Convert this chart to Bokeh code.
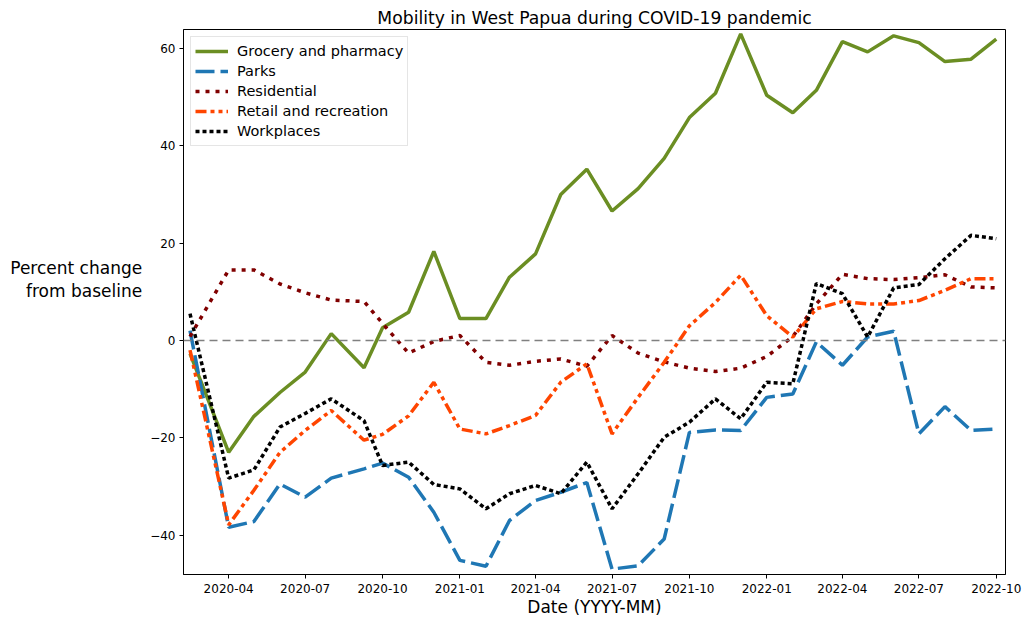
import pandas as pd
from bokeh.plotting import figure
from bokeh.models import Range1d, FixedTicker, DatetimeTickFormatter, Span, Label
from bokeh.embed import file_html
from bokeh.resources import INLINE

dates = pd.to_datetime([
    "2020-02-15", "2020-04-01", "2020-05-01", "2020-06-01", "2020-07-01", "2020-08-01",
    "2020-09-09", "2020-10-01", "2020-11-01", "2020-12-01", "2021-01-01", "2021-02-01",
    "2021-03-01", "2021-04-01", "2021-05-01", "2021-06-01", "2021-07-01", "2021-08-01",
    "2021-09-01", "2021-10-01", "2021-11-01", "2021-12-01", "2022-01-01", "2022-02-01",
    "2022-03-01", "2022-04-01", "2022-05-01", "2022-06-01", "2022-07-01", "2022-08-01",
    "2022-09-01", "2022-10-01",
])

grocery = [-2.7, -23.0, -15.6, -10.7, -6.5, 1.4, -5.6, 2.6, 5.8, 18.3, 4.5, 4.5,
           13.0, 17.8, 30.0, 35.2, 26.6, 31.2, 37.4, 45.8, 50.8, 63.0, 50.4, 46.8,
           51.4, 61.4, 59.3, 62.6, 61.2, 57.3, 57.8, 61.9]
parks = [2.0, -38.4, -37.2, -29.5, -32.2, -28.3, -26.4, -25.2, -28.1, -35.3, -45.2, -46.4,
         -37.0, -32.9, -31.2, -29.2, -47.0, -46.3, -40.8, -18.9, -18.4, -18.5, -11.7, -11.0,
         -0.3, -5.1, 0.7, 1.9, -19.2, -13.6, -18.5, -18.2]
residential = [0.8, 14.5, 14.5, 11.6, 9.8, 8.3, 8.0, 3.5, -2.6, -0.2, 1.0, -4.5,
               -5.1, -4.3, -3.8, -5.3, 1.0, -2.6, -4.4, -5.7, -6.4, -5.7, -3.3, 0.8,
               7.5, 13.6, 12.7, 12.5, 12.9, 13.5, 11.0, 10.8]
retail = [-2.0, -37.9, -30.8, -23.0, -18.5, -14.4, -20.5, -19.3, -15.5, -8.6, -18.2, -19.2,
          -17.5, -15.4, -8.6, -4.8, -19.2, -11.7, -4.5, 3.0, 7.8, 13.4, 5.1, 0.7,
          6.5, 8.0, 7.5, 7.5, 8.2, 10.3, 12.7, 12.7]
workplaces = [5.5, -28.3, -26.6, -17.8, -15.0, -12.0, -16.5, -25.7, -25.0, -29.6, -30.5, -34.6,
              -31.5, -29.8, -31.5, -25.0, -34.6, -27.4, -19.9, -16.8, -12.0, -16.1, -8.6, -8.9,
              11.7, 9.6, 0.7, 10.8, 11.5, 16.8, 21.6, 20.9]

x_tick_dates = ["2020-04-01", "2020-07-01", "2020-10-01", "2021-01-01", "2021-04-01",
                "2021-07-01", "2021-10-01", "2022-01-01", "2022-04-01", "2022-07-01",
                "2022-10-01"]
y_ticks = [-40, -20, 0, 20, 40, 60]

FONT = "DejaVu Sans"
YLABEL = "Percent change\nfrom baseline"

p = figure(
    frame_width=822, frame_height=545,
    x_axis_type="datetime",
    x_range=Range1d(pd.Timestamp("2020-02-07 06:00"), pd.Timestamp("2022-10-12")),
    y_range=Range1d(-48.1, 63.9),
    output_backend="svg", toolbar_location=None,
    min_border_left=183, min_border_right=20, min_border_top=29, min_border_bottom=40,
    background_fill_color="white", border_fill_color="white",
)

p.title.text = "Mobility in West Papua during COVID-19 pandemic"
p.title.align = "center"
p.title.text_font = FONT
p.title.text_font_size = "17.2px"
p.title.text_font_style = "normal"
p.title.text_color = "black"
p.title.standoff = 4

p.xgrid.grid_line_color = None
p.ygrid.grid_line_color = None
p.outline_line_color = "black"
p.outline_line_width = 1
p.outline_line_alpha = 1

zero = Span(location=0, dimension="width", line_color="gray", line_width=1.5, line_dash="8 5")
p.add_layout(zero)

series = [
    (grocery, "Grocery and pharmacy", "#6b8e23", "solid"),
    (parks, "Parks", "#1f77b4", "19 6"),
    (residential, "Residential", "#800000", "4 6"),
    (retail, "Retail and recreation", "#ff4500", "11 4 4 4 4 4"),
    (workplaces, "Workplaces", "black", "4 3"),
]
for vals, name, color, dash in series:
    p.line(dates, vals, line_color=color, line_width=3.5, line_dash=dash, legend_label=name)

for ax in (p.xaxis[0], p.yaxis[0]):
    ax.axis_line_color = "black"
    ax.major_tick_line_color = "black"
    ax.major_tick_out = 4
    ax.major_tick_in = 0
    ax.minor_tick_out = 0
    ax.minor_tick_in = 0
    ax.major_label_text_font = FONT
    ax.major_label_text_font_size = "12px"
    ax.major_label_text_color = "black"
    ax.major_label_standoff = 4
p.xaxis.major_label_standoff = 5

p.xaxis.ticker = FixedTicker(ticks=[pd.Timestamp(d).value // 10**6 for d in x_tick_dates])
fmt = "%Y-%m"
p.xaxis.formatter = DatetimeTickFormatter(
    microseconds=fmt, milliseconds=fmt, seconds=fmt, minsec=fmt, minutes=fmt,
    hourmin=fmt, hours=fmt, days=fmt, months=fmt, years=fmt)
p.yaxis.ticker = FixedTicker(ticks=y_ticks)
p.yaxis.major_label_overrides = {t: (str(t).replace("-", "\u2212")) for t in y_ticks}

p.xaxis.axis_label = "Date (YYYY-MM)"
p.xaxis.axis_label_text_font = FONT
p.xaxis.axis_label_text_font_size = "17px"
p.xaxis.axis_label_text_font_style = "normal"
p.xaxis.axis_label_text_color = "black"
p.xaxis.axis_label_standoff = 1

ya = p.yaxis[0]
try:
    ya.axis_label_orientation = "horizontal"
    # two blank lines below keep the two visible lines above the axis middle, as in the reference
    ya.axis_label = YLABEL + "\n \n "
    ya.axis_label_text_font = FONT
    ya.axis_label_text_font_size = "17px"
    ya.axis_label_text_font_style = "normal"
    ya.axis_label_text_color = "black"
    ya.axis_label_text_align = "right"
    ya.axis_label_text_line_height = 1.15
    ya.axis_label_standoff = 5
except Exception:
    ylab = Label(x=142, y=282, x_units="canvas", y_units="canvas",
                 text=YLABEL, text_align="right", text_baseline="middle",
                 text_font=FONT, text_font_size="17px", text_color="black")
    p.add_layout(ylab)

lg = p.legend[0]
lg.location = "top_left"
lg.margin = 7
lg.padding = 4
lg.spacing = 0
lg.glyph_width = 33
lg.glyph_height = 20
lg.label_height = 20
lg.label_standoff = 9
lg.label_text_font = FONT
lg.label_text_font_size = "14.5px"
lg.label_text_color = "black"
lg.border_line_color = "#cccccc"
lg.border_line_width = 1
lg.background_fill_alpha = 0.8

open("out.html", "w").write(file_html(p, INLINE))
